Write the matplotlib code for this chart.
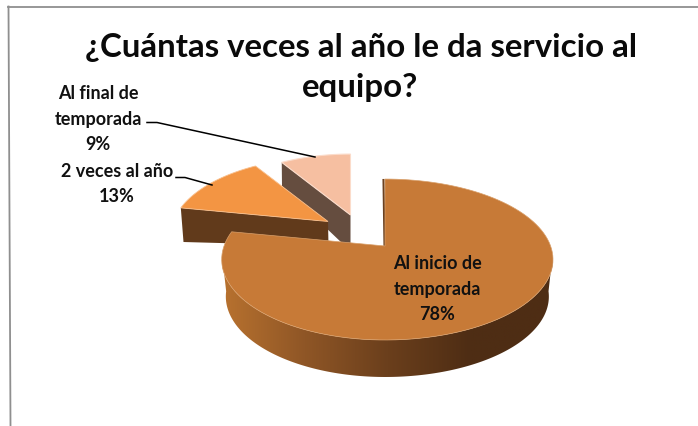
import numpy as np
import matplotlib.pyplot as plt
from matplotlib.colors import LinearSegmentedColormap
from matplotlib.patches import Polygon

# datos
titulo = "¿Cuántas veces al año le da servicio al\nequipo?"
categorias = ["Al inicio de\ntemporada", "2 veces al año", "Al final de\ntemporada"]
porcentajes = [78, 13, 9]

plt.rcParams['font.family'] = ['Lato', 'DejaVu Sans']

fig = plt.figure(figsize=(6.98, 4.26), dpi=100)
ax = fig.add_axes([0, 0, 1, 1])


# proyeccion en perspectiva del circulo: theta en grados desde las 12, sentido horario
def proyecta(theta, apice, escala=1.0):
    t = np.radians(theta)
    u, v = np.sin(t), np.cos(t)
    w = 1 + 0.168 * v
    R = np.where(u > 0, 165.6, 161.0)
    x = apice[0] + escala * R * u / w
    y = apice[1] - escala * 78.2 * v / w
    return x, y


# cara superior de una rebanada
def rebanada(ini, fin, apice, escala=1.0):
    th = np.linspace(ini, fin, 120)
    x, y = proyecta(th, apice, escala)
    return np.vstack([[apice], np.column_stack([x, y])])


limites = np.cumsum([0] + porcentajes) * 3.6
apice_main = (385, 246)
apice_2 = (328, 221.5)
apice_3 = (350.5, 215)

# marco
ax.plot([7.5, 698], [6.5, 6.5], color='#8f8f8f', lw=1.3)
ax.plot([8.5, 10.5], [6.5, 426], color='#8f8f8f', lw=1.3)

# rebanada 9%: pared y cara
sup3 = rebanada(limites[2], limites[3], apice_3, 0.91)
ax.add_patch(Polygon([sup3[1], apice_3, (350.5, 244), (343, 244), (282, 186)], fc='#654d3f', ec='none'))
ax.add_patch(Polygon(sup3, fc='#f6bfa1', ec='#fbdccb', lw=0.8))

# rebanada 13%: pared y cara
sup2 = rebanada(limites[1], limites[2], apice_2, 0.96)
ax.add_patch(Polygon([sup2[1], apice_2, (328.5, 246), (183.5, 242)], fc='#613a1b', ec='none'))
ax.add_patch(Polygon(sup2, fc='#f39543', ec='#f9c08e', lw=0.6))

# rebanada 78%: pared con degradado
th_pared = np.linspace(96, 264, 200)
xs, ys = proyecta(th_pared, apice_main)
xi = 387.5 + (xs - 387.5) * 0.975
pared = np.vstack([np.column_stack([xs, ys]), np.column_stack([xi, ys + 37])[::-1]])
cmap = LinearSegmentedColormap.from_list('pared', ['#b8722f', '#8f5626', '#6b3f1c', '#4e2d14', '#4e2d14'])
img = ax.imshow(np.linspace(0, 1, 256).reshape(1, -1), cmap=cmap, aspect='auto',
                extent=(222, 553, 400, 200), zorder=2)
parche = Polygon(pared, fc='none', ec='none', zorder=2)
ax.add_patch(parche)
img.set_clip_path(parche)

sup1 = rebanada(limites[0], limites[1], apice_main)
ax.plot([383.5, 384.5], [180, 246], color='#6b4120', lw=1.5, zorder=3)
ax.add_patch(Polygon(sup1, fc='#c77a37', ec='#d9a06b', lw=0.5, zorder=3))

# lineas guia
ax.plot([147, 157, 315], [122.5, 122.5, 157], color='black', lw=1.1, zorder=4)
ax.plot([176, 185, 212], [177.5, 177.5, 185], color='black', lw=1.1, zorder=4)

# textos
ax.text(361, 47, titulo.split("\n")[0], ha='center', va='center', fontsize=23.8, fontweight='bold', color='#0a0a0a')
ax.text(360, 87, titulo.split("\n")[1], ha='center', va='center', fontsize=23.8, fontweight='bold', color='#0a0a0a')

estilo = dict(ha='center', va='center', fontsize=13, fontweight='bold', color='#111111', linespacing=1.58, zorder=5)
ax.text(437, 289, f"{categorias[0]}\n{porcentajes[0]}%", **estilo)
ax.text(117, 184, f"{categorias[1]}\n{porcentajes[1]}%", **estilo)
ax.text(98, 119, f"{categorias[2]}\n{porcentajes[2]}%", **estilo)

ax.set_xlim(0, 698)
ax.set_ylim(426, 0)
ax.axis('off')

fig.savefig('out.png', dpi=100)
